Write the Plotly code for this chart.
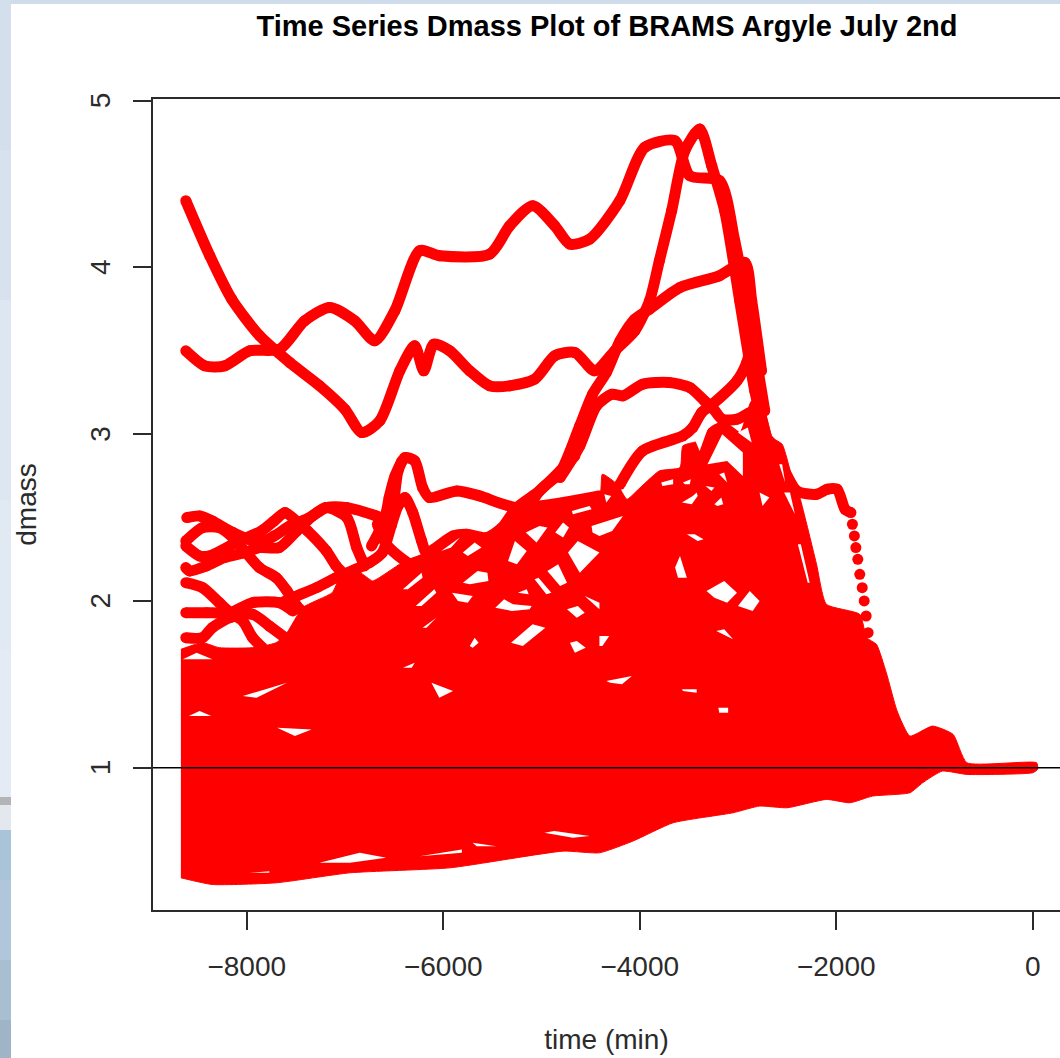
import plotly.graph_objects as go

# ---- tick labels and text
x_ticks = [-8000, -6000, -4000, -2000, 0]
x_labels = ["\u22128000", "\u22126000", "\u22124000", "\u22122000", "0"]
y_ticks = [1, 2, 3, 4, 5]
y_labels = ["1\u00a0", "2\u00a0", "3\u00a0", "4\u00a0", "5\u00a0"]

# ---- individually readable dmass tracks: time (min), dmass
t_a = [-8620,-8376,-8153,-7868,-7562,-7257,-7002,-6829,-6646,-6442,-6290,-6198,-6096,-5933,-5730,-5527,-5323,-5069,-4865,-4661,-4458,-4254,-4050,-3900,-3800,-3675,-3541,-3389,-3267,-3135,-2982,-2829,-2677,-2473,-2270]
d_a = [4.40,4.07,3.81,3.59,3.43,3.29,3.15,3.01,3.08,3.38,3.53,3.38,3.54,3.50,3.38,3.29,3.29,3.33,3.47,3.49,3.38,3.50,3.62,3.80,4.04,4.34,4.70,4.83,4.61,4.34,3.80,3.26,2.90,2.36,2.06]
t_b = [-8620,-8427,-8224,-7969,-7664,-7410,-7155,-6900,-6697,-6493,-6239,-6035,-5527,-5323,-5089,-4865,-4712,-4509,-4203,-3949,-3643,-3491,-3186,-3033,-2880,-2727]
d_b = [3.50,3.41,3.41,3.50,3.51,3.68,3.76,3.68,3.56,3.74,4.10,4.07,4.08,4.25,4.37,4.25,4.14,4.17,4.40,4.72,4.76,4.55,4.52,4.16,3.68,3.14]
t_c = [-5630,-5020,-4810,-4610,-4480,-4340,-4200,-4050,-3900,-3590,-3190,-2930,-2860,-2760]
d_c = [2.06,2.66,2.77,3.05,3.24,3.37,3.56,3.69,3.75,3.88,3.95,4.03,3.80,3.38]
t_d = [-4810,-4610,-4440,-4280,-4170,-3970,-3700,-3490,-3340,-3260,-3160,-3010,-2880]
d_d = [2.74,2.93,3.17,3.24,3.23,3.30,3.31,3.28,3.20,3.16,3.09,3.09,3.13]
t_e = [-4200,-3970,-3560,-3460,-3370,-3260,-3010,-2910,-2860]
d_e = [2.70,2.90,2.99,3.04,3.13,3.18,3.32,3.43,3.56]
t_f = [-8610,-8480,-8350,-8140,-7870,-7720,-7560,-7360,-7190,-6980,-6680,-6550,-6460,-6390,-6290,-6210,-6140,-5860,-5630,-5250,-4410]
d_f = [2.50,2.51,2.48,2.41,2.35,2.39,2.45,2.50,2.56,2.56,2.51,2.48,2.78,2.86,2.84,2.68,2.62,2.66,2.63,2.56,2.63]
t_g = [-8620,-8450,-8280,-8140,-8020,-7870,-7700,-7590,-7490,-7360]
d_g = [2.36,2.44,2.44,2.38,2.30,2.20,2.14,2.06,1.97,1.90]
t_h = [-8620,-8480,-8380,-8170,-8000,-7850,-7720,-7610,-7480,-7380,-7190,-7090,-6980,-6880]
d_h = [2.33,2.27,2.27,2.33,2.38,2.42,2.48,2.53,2.47,2.42,2.30,2.21,2.14,2.06]
t_i = [-8620,-8580,-8410,-8230,-8020,-7870,-7670,-7490,-7330,-7190,-6980,-6880,-6800]
d_i = [2.20,2.18,2.21,2.26,2.29,2.32,2.32,2.42,2.51,2.56,2.50,2.32,2.21]
t_j = [-8620,-8450,-8280,-8170,-8040,-7940,-7840]
d_j = [2.11,2.08,1.99,1.93,1.88,1.78,1.72]
t_k = [-8620,-8410,-8170,-7940,-7670,-7530]
d_k = [1.93,1.93,1.93,1.99,1.99,1.94]
t_l = [-8620,-8450,-8350,-8170,-7940,-7770,-7610]
d_l = [1.78,1.78,1.84,1.90,1.92,1.85,1.78]
t_m = [-7610,-7490,-7290,-7090,-6750,-6620,-6530,-6460,-6390,-6310,-6220,-6170,-5900,-5760,-5560,-5400,-5250,-5020,-4810,-4660]
d_m = [2.00,2.03,2.08,2.14,2.23,2.29,2.45,2.57,2.62,2.53,2.36,2.29,2.39,2.40,2.38,2.44,2.56,2.66,2.78,2.87]
t_n = [-6670,-6580,-6390,-6140]
d_n = [2.46,2.34,2.24,2.15]
t_o = [-6730,-6650,-6580,-6550,-6490,-6420]
d_o = [2.33,2.42,2.53,2.62,2.75,2.84]
t_p = [-3420,-3340,-3260,-3160,-3010,-2900,-2830]
d_p = [2.78,2.90,3.01,3.04,2.98,2.87,2.78]
t_q = [-2680,-2550,-2400,-2200,-2090,-1990,-1910,-1850,-1835,-1815,-1800,-1780,-1760,-1735,-1715,-1695,-1675]
d_q = [2.96,2.81,2.66,2.64,2.67,2.67,2.55,2.53,2.46,2.39,2.32,2.25,2.16,2.08,2.00,1.91,1.81]

tracks = [(t_a,d_a),(t_b,d_b),(t_c,d_c),(t_d,d_d),(t_e,d_e),(t_f,d_f),(t_g,d_g),(t_h,d_h),(t_i,d_i),
          (t_j,d_j),(t_k,d_k),(t_l,d_l),(t_m,d_m),(t_n,d_n),(t_o,d_o),(t_p,d_p)]

# ---- outline of the saturated mass of overlapping tracks
mass_t = [-8670,-8450,-8280,-7940,-7700,-7590,-7430,-7130,-7050,-6850,-6720,-6650,-6390,-6170,-5900,-5760,-5560,-5400,-5250,-4970,-4410,-4380,-4230,-4130,-4030,-3800,-3590,-3560,-3390,-3190,-2980,-2860,-2730,-2650,-2550,-2440,-2370,-2300,-2200,-2100,-1760,-1690,-1590,-1490,-1380,-1250,-1020,-810,-670,40,50,0,-670,-920,-1120,-1250,-1630,-1860,-2100,-2500,-2780,-3050,-3660,-4070,-4410,-4780,-5930,-6950,-7700,-8350,-8670]
mass_d = [1.71,1.75,1.72,1.72,1.75,1.81,1.96,2.05,2.14,2.17,2.12,2.14,2.24,2.29,2.39,2.40,2.38,2.44,2.56,2.57,2.63,2.76,2.70,2.61,2.66,2.78,2.80,2.93,2.96,3.02,3.01,3.20,3.14,2.98,2.94,2.72,2.62,2.46,2.22,1.98,1.92,1.78,1.74,1.57,1.34,1.19,1.25,1.20,1.03,1.03,0.99,0.97,0.96,0.98,0.91,0.85,0.83,0.79,0.81,0.76,0.77,0.73,0.67,0.56,0.49,0.50,0.40,0.37,0.31,0.30,0.34]

# ---- places inside the mass that no track reaches
gap_t = [-8040,-7590,-7900,None,-7690,-7340,-7510,None,-8590,-8480,-8360,None,-8650,-8510,-8350,None,-6120,-5900,-6040,None,
         -4970,-4870,-4510,-4680,None,-6240,-5810,-5810,None,-7260,-6850,-6580,-6950,None,-7970,-7770,-7770,None,-5700,-5460,-5660,None,-6410,-6290,-6320,None,
         -6020,-5830,-5920,None,-5800,-5680,-5610,-5750,None,-6410,-6220,-6210,-6360,None,-5800,-5650,-5550,-5540,-5730,None,-5910,-5700,-5750,-5850,None,
         -6280,-6090,-6070,-6220,None,-5470,-5380,-5290,-5100,-5120,-5300,None,-5340,-5270,-5150,-5250,None,-5160,-5020,-4940,-5050,None,-4860,-4780,-4720,-4780,None,
         -4730,-4630,-4440,-4410,-4610,None,-4940,-4830,-4740,-4810,None,-5070,-5030,-4900,-4950,None,-5310,-5090,-4960,-5190,None,-4710,-4640,-4550,-4660,None,
         -4740,-4630,-4560,-4640,None,-4560,-4410,-4410,None,-5730,-5680,-5640,-5700,None,-5240,-5150,-5130,None,-6210,-6070,-6170,None,-4690,-4510,-4490,-4680,None,
         -4490,-4380,-4170,-4280,-4410,-4480,None,-4360,-4290,-4340,None,-3780,-3660,-3660,-3770,None,-3560,-3480,-3490,-3540,None,-3570,-3460,-3420,-3410,-3470,None,
         -3330,-3240,-3270,None,-3240,-3170,-3150,-3210,None,-3190,-3140,-3110,None,-3520,-3440,-3350,-3410,None,-3640,-3590,-3520,-3610,None,-3320,-3140,-3010,-3110,-3240,None,
         -3000,-2880,-2780,-2850,None,-2780,-2680,-2750,None,-2530,-2470,-2420,None,-2580,-2550,-2520,None,-3000,-2900,-2860,None,-3310,-3160,-2950,-2950,-3110,None,
         -3220,-3140,-3050,None,-4340,-4080,-4180,-4300,None,-3570,-3420,-3420,-3560,None,-3200,-3100,-3100,-3190,None,-4410,-4310,-4380,-4410,None,-2390,-2360,-2270,-2290,None,
         -3440,-3320,-3310,-3390]
gap_d = [1.43,1.51,1.42,None,1.24,1.23,1.19,None,1.31,1.34,1.31,None,1.65,1.69,1.65,None,1.51,1.46,1.42,None,
         0.61,0.62,0.59,0.58,None,0.47,0.51,0.49,None,0.43,0.49,0.46,0.43,None,0.37,0.38,0.37,None,0.55,0.53,0.53,None,1.60,1.63,1.60,None,
         2.30,2.38,2.32,None,2.29,2.35,2.32,2.27,None,2.07,2.17,2.14,2.07,None,2.11,2.18,2.17,2.12,2.10,None,2.05,2.03,1.99,2.00,None,
         1.97,2.07,2.05,1.97,None,1.96,2.01,1.98,1.97,1.95,1.94,None,2.24,2.36,2.30,2.22,None,2.41,2.45,2.44,2.35,None,2.41,2.47,2.44,2.38,None,
         2.29,2.36,2.30,2.29,2.17,None,2.18,2.22,2.11,2.09,None,2.13,2.14,2.05,2.04,None,1.75,1.86,1.84,1.73,None,1.75,1.76,1.72,1.69,None,
         1.95,1.97,1.93,1.90,None,2.03,1.99,1.95,None,1.73,1.78,1.75,1.72,None,2.05,2.07,2.04,None,1.84,1.90,1.84,None,2.54,2.57,2.55,2.52,None,
         2.45,2.47,2.51,2.42,2.39,2.41,None,2.64,2.63,2.59,None,2.71,2.73,2.70,2.69,None,2.71,2.73,2.70,2.70,None,2.59,2.63,2.65,2.63,2.58,None,
         2.69,2.68,2.66,None,2.58,2.62,2.58,2.57,None,2.76,2.77,2.71,None,2.40,2.40,2.37,2.36,None,2.20,2.27,2.14,2.14,None,2.06,2.12,2.05,1.99,2.02,None,
         1.97,2.06,2.00,1.94,None,2.65,2.62,2.57,None,2.65,2.65,2.52,None,2.82,2.82,2.71,None,3.01,3.04,2.95,None,2.82,3.00,2.89,2.75,2.84,None,
         1.82,1.83,1.77,None,1.52,1.55,1.50,1.51,None,1.47,1.47,1.45,1.46,None,1.36,1.36,1.33,1.33,None,1.79,1.79,1.73,1.73,None,2.34,2.34,2.11,2.11,None,
         2.97,3.10,3.03,2.90]

# ---- page backdrop colours seen behind the plot window
strip_colors = ["#d3dfed", "#d8e2ef", "#dde6f1", "#e1e9f3", "#e4ebf4", "#b4b4b6", "#e2e8ee", "#a9c4d8", "#b0c7db", "#a8bed1", "#9fb4c7"]
strip_edges = [0, 150, 300, 500, 650, 797, 805, 830, 880, 960, 1020, 1058]

W, H = 1060, 1058
L, T, B = 153, 99, 148
PW, PH = W - L, H - T - B
RED = "#ff0000"
INK = "#2b2b2b"
FONT = "Liberation Sans"
LINE = dict(color=RED, width=11, shape="spline", smoothing=0.7)
DOT = dict(color=RED, size=11)

fig = go.Figure()
fig.add_trace(go.Scatter(x=mass_t, y=mass_d, mode="lines", fill="toself", fillcolor=RED,
                         line=dict(color=RED, width=1, shape="spline", smoothing=0.5),
                         hoverinfo="skip", showlegend=False))
for tt, dd in tracks:
    fig.add_trace(go.Scatter(x=tt, y=dd, mode="lines+markers", line=LINE,
                             marker=DOT, hoverinfo="skip", showlegend=False))
fig.add_trace(go.Scatter(x=t_q[:8], y=d_q[:8], mode="lines+markers", line=LINE,
                         marker=DOT, hoverinfo="skip", showlegend=False))
fig.add_trace(go.Scatter(x=t_q[8:], y=d_q[8:], mode="markers",
                         marker=DOT, hoverinfo="skip", showlegend=False))

# each gap is its own small white patch
cur_t, cur_d = [], []
for gt, gd in zip(gap_t + [None], gap_d + [None]):
    if gt is None:
        fig.add_trace(go.Scatter(x=cur_t, y=cur_d, mode="lines", fill="toself", fillcolor="white",
                                 line=dict(color="white", width=0), hoverinfo="skip", showlegend=False))
        cur_t, cur_d = [], []
    else:
        cur_t.append(gt)
        cur_d.append(gd)

shapes = []
for i, col in enumerate(strip_colors):
    shapes.append(dict(type="rect", xref="paper", yref="paper", layer="below", line=dict(width=0), fillcolor=col,
                       x0=-L / PW, x1=(11 - L) / PW,
                       y0=(H - B - strip_edges[i + 1]) / PH, y1=(H - B - strip_edges[i]) / PH))
shapes.append(dict(type="rect", xref="paper", yref="paper", layer="below", line=dict(width=0), fillcolor="#cfdcec",
                   x0=(11 - L) / PW, x1=1, y0=(H - B - 4) / PH, y1=(H - B) / PH))
shapes.append(dict(type="line", xref="paper", yref="y", layer="above", x0=0, x1=1, y0=1, y1=1,
                   line=dict(color="black", width=1.5)))

fig.update_layout(
    width=W, height=H, margin=dict(l=L, r=0, t=T, b=B, autoexpand=False),
    paper_bgcolor="white", plot_bgcolor="white", showlegend=False, shapes=shapes,
    font=dict(family=FONT, size=28, color=INK),
    title=dict(text="<b>Time Series Dmass Plot of BRAMS Argyle July 2nd</b>", x=607 / W, y=1 - 26 / H,
               xref="container", yref="container", xanchor="center", yanchor="middle",
               font=dict(family=FONT, size=29, color="black")),
    xaxis=dict(range=[-8954, 278], tickmode="array", tickvals=x_ticks, ticktext=x_labels,
               ticks="outside", ticklen=18, tickwidth=1.5, tickcolor=INK, showline=True, mirror=True,
               linecolor=INK, linewidth=1.5, showgrid=False, zeroline=False, ticklabelstandoff=13,
               title=dict(text="time (min)", standoff=48, font=dict(size=28))),
    yaxis=dict(range=[0.147, 5.01], tickmode="array", tickvals=y_ticks, ticktext=y_labels, tickangle=-90,
               ticks="outside", ticklen=18, tickwidth=1.5, tickcolor=INK, showline=True, mirror=False,
               linecolor=INK, linewidth=1.5, showgrid=False, zeroline=False, ticklabelstandoff=12,
               title=dict(text="dmass", standoff=40, font=dict(size=28))),
)
fig.write_html("out.html", config=dict(displayModeBar=False), post_script="document.body.style.margin='0';")
